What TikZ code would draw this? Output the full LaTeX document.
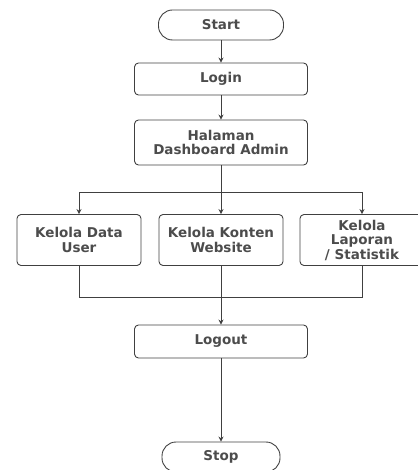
\documentclass[tikz,border=0pt]{standalone}
\usepackage{fontspec}
\setmainfont{DejaVu Sans}
\usetikzlibrary{positioning,arrows.meta}

\begin{document}
\begin{tikzpicture}[x=1pt, y=1pt, line width=0.9pt, draw=black!75, >={Stealth[length=5pt,width=5pt]},
	font=\fontsize{13.5}{14.5}\selectfont\bfseries, text=black!70,
	term/.style = {draw, rounded corners=14pt, minimum width=125pt, minimum height=30pt},
	box/.style = {draw, rounded corners=4pt, minimum width=173pt, minimum height=32pt, align=center},
	kbox/.style = {draw, rounded corners=4pt, minimum width=124pt, minimum height=51pt, align=center}]
		\useasboundingbox (-221,25) rectangle (196,-445);
		\node[term] (start) {Start};
		\node[box] (login) [node distance=54pt, below of=start] {Login};
		\node[box, minimum height=45pt] (dash) [node distance=63.5pt, below of=login] {Halaman\\Dashboard Admin};
		\node[kbox] (kkonten) [node distance=97.5pt, below of=dash] {Kelola Konten\\Website};
		\node[kbox] (kdata) [node distance=142pt, left of=kkonten] {Kelola Data\\User};
		\node[kbox] (klapor) [node distance=141pt, right of=kkonten] {Kelola\\Laporan\\/ Statistik};
		\node[box, minimum height=33pt] (logout) [node distance=101.5pt, below of=kkonten] {Logout};
		\node[term, minimum width=118pt] (stop) [node distance=115.5pt, below of=logout] {Stop};
		\coordinate[node distance=49.5pt, below of=dash] (split);
		\coordinate[node distance=57pt, below of=kkonten] (merge);
		\draw[->] (start) -- (login);
		\draw[->] (login) -- (dash);
		\draw[->] (dash) -- (kkonten);
		\draw[->] (split) -| (kdata);
		\draw[->] (split) -| (klapor);
		\draw (kdata) |- (merge);
		\draw (klapor) |- (merge);
		\draw[->] (kkonten) -- (logout);
		\draw[->] (logout) -- (stop);
\end{tikzpicture}
\end{document}
